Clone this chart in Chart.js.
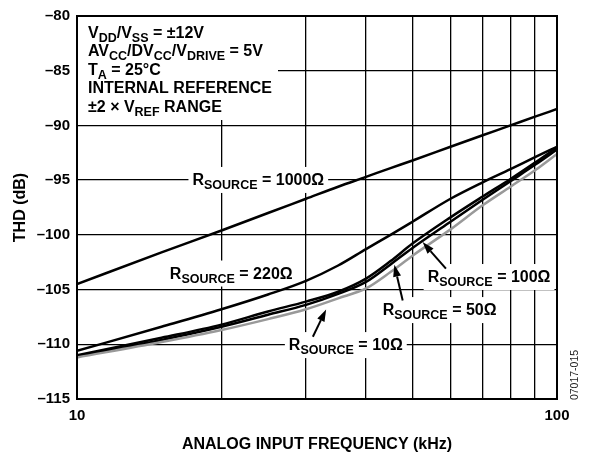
<!DOCTYPE html>
<html><head><meta charset="utf-8">
<script src="https://cdn.jsdelivr.net/npm/chart.js@4"></script>
<style>html,body{margin:0;padding:0;background:#fff}#wrap{width:590px;height:454px}</style>
</head><body><div id="wrap"><canvas id="c" width="590" height="454"></canvas></div>
<script>
// ---- data ----
const frequencies = [10, 15, 20, 25, 30, 35, 40, 45, 50, 60, 70, 80, 90, 100];
const thd1000 = [-104.5, -101.6, -99.6, -98.0, -96.7, -95.6, -94.7, -93.9, -93.2, -91.95, -90.9, -90.0, -89.2, -88.5];
const thd220  = [-110.6, -108.4, -106.8, -105.45, -104.2, -102.8, -101.3, -100.0, -98.8, -96.7, -95.2, -94.0, -92.9, -91.95];
const thd100  = [-111.0, -109.4, -108.2, -107.0, -106.1, -105.2, -104.0, -102.4, -100.8, -98.4, -96.5, -94.9, -93.4, -92.0];
const thd50   = [-111.1, -109.6, -108.4, -107.3, -106.4, -105.4, -104.3, -102.7, -101.2, -98.8, -96.8, -95.1, -93.6, -92.2];
const thd10   = [-111.2, -109.8, -108.7, -107.7, -106.8, -105.8, -104.9, -103.4, -101.9, -99.5, -97.3, -95.6, -94.1, -92.6];
const xGridValues = [10, 20, 30, 40, 50, 60, 70, 80, 90, 100];
const xTickLabels = {10: '10', 100: '100'};
const yTickValues = [-115, -110, -105, -100, -95, -90, -85, -80];
const yTickLabels = ['–115', '–110', '–105', '–100', '–95', '–90', '–85', '–80'];

const FONT = "'Liberation Sans', Arial, Helvetica, sans-serif";
const MAIN = 16, SUB = 12.5, SUBOFF = 4;

// rich-text annotations: [text, isSubscript]
const infoLines = [
  [['V'], ['DD', 1], ['/V'], ['SS', 1], [' = ±12V']],
  [['AV'], ['CC', 1], ['/DV'], ['CC', 1], ['/V'], ['DRIVE', 1], [' = 5V']],
  [['T'], ['A', 1], [' = 25°C']],
  [['INTERNAL REFERENCE']],
  [['±2 × V'], ['REF', 1], [' RANGE']]
];
const curveLabels = [
  {segs: [['R'], ['SOURCE', 1], [' = 1000Ω']], f: 17.40, db: -95.44},
  {segs: [['R'], ['SOURCE', 1], [' = 220Ω']],  f: 15.61, db: -103.99},
  {segs: [['R'], ['SOURCE', 1], [' = 100Ω']],  f: 53.77, db: -104.31},
  {segs: [['R'], ['SOURCE', 1], [' = 50Ω']],   f: 43.33, db: -107.33},
  {segs: [['R'], ['SOURCE', 1], [' = 10Ω']],   f: 27.63, db: -110.53}
];
const arrows = [
  {from: [31.0, -109.31], to: [33.04, -106.81]},
  {from: [47.7, -105.99], to: [45.83, -102.73]},
  {from: [58.7, -103.09], to: [52.48, -100.66]}
];

function richWidth(ctx, segs) {
  let w = 0;
  for (const s of segs) { ctx.font = `bold ${s[1] ? SUB : MAIN}px ${FONT}`; w += ctx.measureText(s[0]).width; }
  return w;
}
function drawRich(ctx, x, y, segs) {
  let cx = x;
  ctx.textAlign = 'left'; ctx.textBaseline = 'alphabetic'; ctx.fillStyle = '#000';
  for (const s of segs) {
    ctx.font = `bold ${s[1] ? SUB : MAIN}px ${FONT}`;
    ctx.fillText(s[0], cx, y + (s[1] ? SUBOFF : 0));
    cx += ctx.measureText(s[0]).width;
  }
}

const annotPlugin = {
  id: 'annot',
  beforeDatasetsDraw(chart) {
    const {ctx, chartArea: a, scales: {x, y}} = chart;
    ctx.save();
    ctx.fillStyle = '#fff';
    ctx.fillRect(a.left, a.top, 201, 104);
    for (const L of curveLabels) {
      const px = x.getPixelForValue(L.f), py = y.getPixelForValue(L.db);
      const w = richWidth(ctx, L.segs);
      ctx.fillStyle = '#fff';
      ctx.fillRect(px - 4, py - 18, w + 8, 26);
    }
    ctx.restore();
  },
  afterDatasetsDraw(chart) {
    const {ctx, chartArea: a, scales: {x, y}} = chart;
    ctx.save();
    // frame
    ctx.strokeStyle = '#000'; ctx.lineWidth = 2;
    ctx.strokeRect(a.left, a.top, a.right - a.left, a.bottom - a.top);
    // info box text
    infoLines.forEach((segs, i) => drawRich(ctx, a.left + 11, a.top + 21.5 + i * 18.6, segs));
    // curve labels
    for (const L of curveLabels) drawRich(ctx, x.getPixelForValue(L.f), y.getPixelForValue(L.db), L.segs);
    // arrows
    ctx.strokeStyle = '#000'; ctx.fillStyle = '#000'; ctx.lineWidth = 2;
    for (const A of arrows) {
      const x0 = x.getPixelForValue(A.from[0]), y0 = y.getPixelForValue(A.from[1]);
      const x1 = x.getPixelForValue(A.to[0]), y1 = y.getPixelForValue(A.to[1]);
      const ang = Math.atan2(y1 - y0, x1 - x0), hl = 12, hw = 4;
      const bx = x1 - hl * Math.cos(ang), by = y1 - hl * Math.sin(ang);
      ctx.beginPath(); ctx.moveTo(x0, y0); ctx.lineTo(bx, by); ctx.stroke();
      ctx.beginPath(); ctx.moveTo(x1, y1);
      ctx.lineTo(bx + hw * Math.sin(ang), by - hw * Math.cos(ang));
      ctx.lineTo(bx - hw * Math.sin(ang), by + hw * Math.cos(ang));
      ctx.closePath(); ctx.fill();
    }
    // figure id
    ctx.translate(575, 375); ctx.rotate(-Math.PI / 2);
    ctx.font = `10.5px ${FONT}`; ctx.fillStyle = '#222'; ctx.textAlign = 'center'; ctx.textBaseline = 'middle';
    ctx.fillText('07017-015', 0, 0);
    ctx.restore();
  }
};

const toXY = arr => frequencies.map((f, i) => ({x: f, y: arr[i]}));
const line = (data, color) => ({data: toXY(data), borderColor: color, borderWidth: 2.5, pointRadius: 0,
  cubicInterpolationMode: 'monotone', fill: false});

new Chart(document.getElementById('c'), {
  type: 'line',
  data: {datasets: [
    line(thd10, '#999999'),
    line(thd50, '#000'),
    line(thd100, '#000'),
    line(thd220, '#000'),
    line(thd1000, '#000')
  ]},
  options: {
    responsive: false, animation: false, devicePixelRatio: 1,
    layout: {padding: {top: 16, right: 33, left: 0, bottom: 0}},
    plugins: {legend: {display: false}, tooltip: {enabled: false}},
    scales: {
      x: {
        type: 'logarithmic', min: 10, max: 100,
        afterBuildTicks: s => { s.ticks = xGridValues.map(v => ({value: v})); },
        afterFit: s => { s.height = 55; },
        ticks: {autoSkip: false, maxRotation: 0, minRotation: 0, padding: 8, color: '#000',
          font: {family: FONT, size: 15, weight: 'bold'}, callback: v => xTickLabels[v] || ''},
        grid: {color: '#000', lineWidth: 1.3, drawTicks: false},
        border: {display: false},
        title: {display: true, text: 'ANALOG INPUT FREQUENCY (kHz)', color: '#000',
          font: {family: FONT, size: 16, weight: 'bold', lineHeight: 1.2}, padding: {top: 0, bottom: 0}}
      },
      y: {
        min: -115, max: -80,
        afterBuildTicks: s => { s.ticks = yTickValues.map(v => ({value: v})); },
        afterFit: s => { s.width = 77; },
        ticks: {padding: 7, color: '#000', font: {family: FONT, size: 15, weight: 'bold'},
          callback: v => yTickLabels[yTickValues.indexOf(v)]},
        grid: {color: '#000', lineWidth: 1.3, drawTicks: false},
        border: {display: false},
        title: {display: true, text: 'THD (dB)', color: '#000',
          font: {family: FONT, size: 16, weight: 'bold', lineHeight: 1.2}, padding: {top: 10.5, bottom: 0}}
      }
    }
  },
  plugins: [annotPlugin]
});
</script></body></html>
